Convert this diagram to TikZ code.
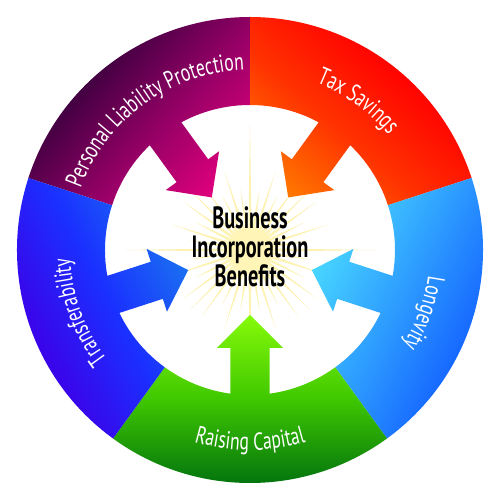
\documentclass[tikz,border=0pt]{standalone}
\usepackage{fontspec}
\usetikzlibrary{decorations.text}
\newfontfamily\lblfont[FakeStretch=0.72]{PT Sans}
\newfontfamily\ctrfont[FakeStretch=0.66]{PT Sans}
\newcommand\lblstyle{\lblfont\fontsize{14}{16}\selectfont}
\newcommand\ctrstyle{\ctrfont\bfseries\fontsize{17.5}{16.6}\selectfont}
\definecolor{plTip}{HTML}{E6007F}
\definecolor{plMid}{HTML}{960066}
\definecolor{plOut}{HTML}{3E0040}
\definecolor{txTip}{HTML}{FF7F00}
\definecolor{txMid}{HTML}{FF3300}
\definecolor{txOut}{HTML}{FF0000}
\definecolor{lgTip}{HTML}{4ADAFF}
\definecolor{lgMid}{HTML}{2FA0FF}
\definecolor{lgOut}{HTML}{1565FF}
\definecolor{rcTip}{HTML}{8CFF0A}
\definecolor{rcMid}{HTML}{40C800}
\definecolor{rcOut}{HTML}{00700F}
\definecolor{trTip}{HTML}{1A74F0}
\definecolor{trMid}{HTML}{1A30FF}
\definecolor{trOut}{HTML}{3D00E8}
\definecolor{starIn}{HTML}{FFF6B8}
\definecolor{starOut}{HTML}{FAEDAA}
\tikzset{
  ringlabel/.style={decorate, decoration={text along path, text color=white, text align=center, text={|\lblstyle|#1}}}
}
\begin{document}
\begin{tikzpicture}[x=0.02cm,y=0.02cm]
\useasboundingbox[fill=white] (-250,-250) rectangle (250,250);

% starburst
\shade[inner color=starIn, outer color=starOut]
  (0:125) \foreach \k in {1,...,39} { -- ({\k*9-4.5}:20) -- ({\k*9}:{62+20*(mod(\k,2)==0)+22*(mod(\k,5)==0)+21*(mod(\k,10)==0)}) }
  -- (-4.5:20) -- cycle;

% segments with arrows
\foreach \th/\d/\ctip/\cmid/\cout in {126/12/plTip/plMid/plOut, 54/-5/txTip/txMid/txOut, -18/-10/lgTip/lgMid/lgOut, -90/0/rcTip/rcMid/rcOut, 198/10/trTip/trMid/trOut} {
  \begin{scope}
    \clip ({\th-36}:145) -- ({\th-36}:233) arc[start angle={\th-36}, end angle={\th+36}, radius=233]
      -- ({\th+36}:145) arc[start angle={\th+36}, end angle={\th-36}, radius=145] -- cycle
      ([rotate=\th]65,0) -- ([rotate=\th]98,-33) -- ([rotate=\th]98,-19.5) -- ([rotate=\th]160,-19.5)
      -- ([rotate=\th]160,19.5) -- ([rotate=\th]98,19.5) -- ([rotate=\th]98,33) -- cycle;
    \begin{scope}[transform canvas={rotate={\th+\d}}]
      \shade[left color=\ctip, right color=\cout, middle color=\cmid] (58,-240) rectangle (238,240);
    \end{scope}
  \end{scope}
}

% ring labels
\path[ringlabel={Personal Liability Protection}] (171:180) arc[start angle=171, end angle=81, radius=180];
\path[ringlabel={Tax Savings}] (99:180) arc[start angle=99, end angle=9, radius=180];
\path[ringlabel={Longevity}] (25:180) arc[start angle=25, end angle=-65, radius=180];
\path[ringlabel={Transferability}] (245:180) arc[start angle=245, end angle=155, radius=180];
\path[ringlabel={Raising Capital}] (225:200) arc[start angle=225, end angle=315, radius=200];

% centre title
\node[font=\ctrstyle, align=center, text=black] (title) at (0,3) {Business\\Incorporation\\Benefits};
\end{tikzpicture}
\end{document}
